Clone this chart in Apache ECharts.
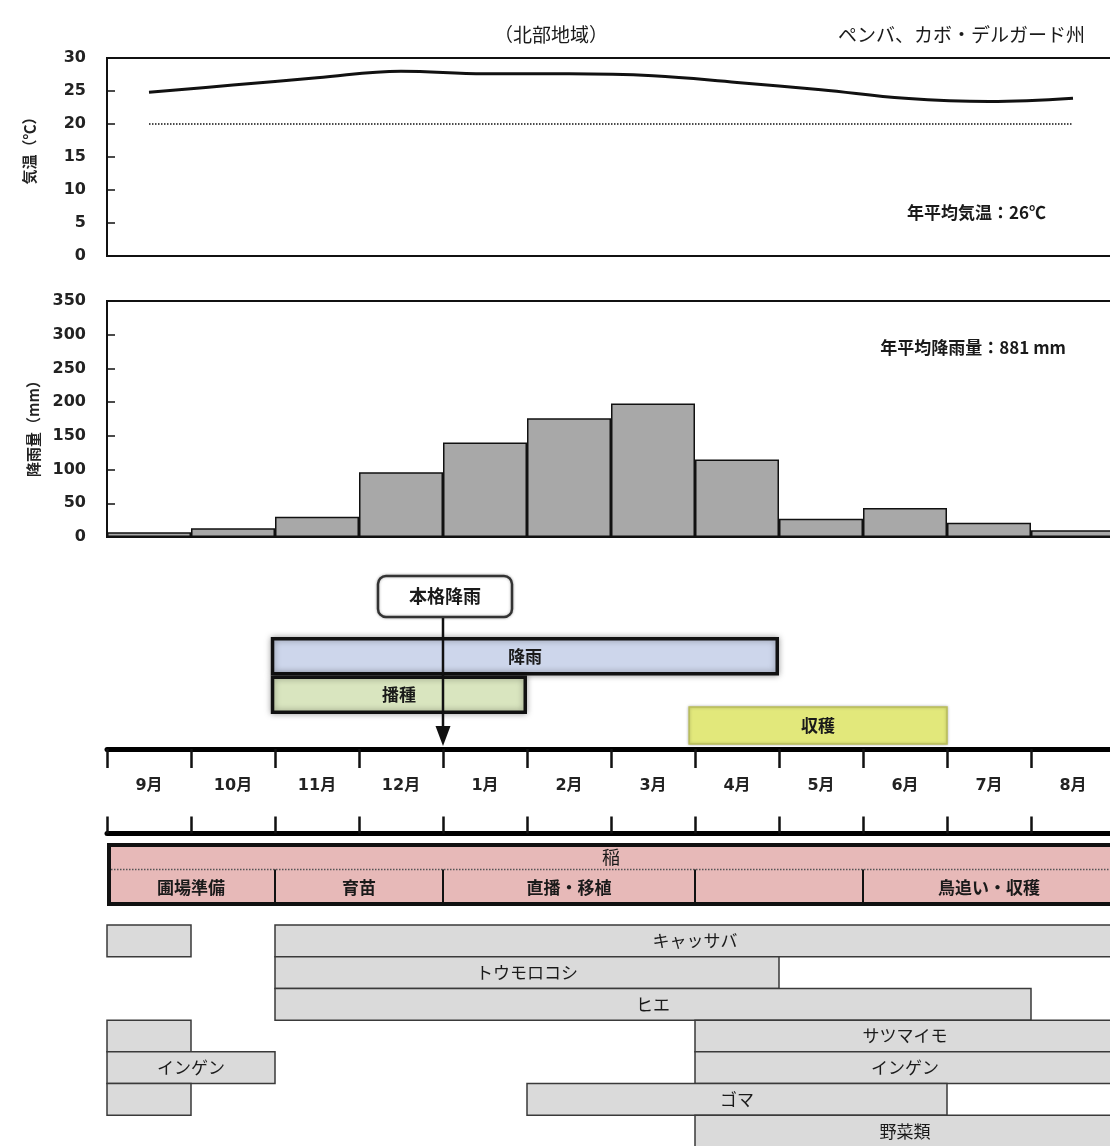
<!DOCTYPE html>
<html><head><meta charset="utf-8">
<script src="https://cdn.jsdelivr.net/npm/echarts@6/dist/echarts.min.js"></script>
<style>html,body{margin:0;padding:0;background:#fff}#c{width:1110px;height:1146px}</style>
</head><body><div id="c"></div>
<script>
// ---------- data ----------
const months = ['9月','10月','11月','12月','1月','2月','3月','4月','5月','6月','7月','8月'];
const temperature = [24.8, 25.9, 27.0, 28.0, 27.6, 27.6, 27.3, 26.3, 25.2, 23.9, 23.4, 23.9];
const tempReference = [20, 20, 20, 20, 20, 20, 20, 20, 20, 20, 20, 20];
const rainfall = [7, 13, 30, 96, 140, 176, 198, 115, 27, 43, 21, 10];

// periods in months counted from the start of September
const seasonNames = ['降雨', '播種'];
const seasonStart = [1.95, 1.95];
const seasonEnd = [8, 5];
const harvestNames = ['収穫'];
const harvestStart = [6.93];
const harvestEnd = [10];
const heavyRainLabel = ['本格降雨'];
const heavyRainMonth = [4];

const riceName = ['稲'];
const riceStart = [0];
const riceEnd = [12];
const riceStageNames = ['圃場準備', '育苗', '直播・移植', '', '鳥追い・収穫'];
const riceStageStart = [0, 2, 4, 7, 9];
const riceStageEnd = [2, 4, 7, 9, 12];

const cropNames = ['', 'キャッサバ', 'トウモロコシ', 'ヒエ', '', 'サツマイモ', 'インゲン', 'インゲン', '', 'ゴマ', '野菜類'];
const cropRow   = [0, 0, 1, 2, 3, 3, 4, 4, 5, 5, 6];
const cropStart = [0, 2, 2, 2, 0, 7, 0, 7, 0, 5, 7];
const cropEnd   = [1, 12, 8, 11, 1, 12, 2, 12, 1, 10, 12];

// ---------- styles ----------
const JP = '"Noto Sans CJK JP", "Noto Sans", sans-serif';
const NUM = 'Verdana, "DejaVu Sans", "Noto Sans CJK JP", sans-serif';
const INK = '#1a1a1a';
const seasonColors = ['#cdd6eb', '#d9e5bf'];
const LEFT = 107, PW = 1008;

const chart = echarts.init(document.getElementById('c'), null, {renderer: 'canvas'});

function seasonItem(params, api) {
  const i = params.dataIndex;
  const row = api.value(2);
  const a = api.coord([api.value(0), row]);
  const b = api.coord([api.value(1), row + 1]);
  const lw = 3.5;
  return {
    type: 'rect',
    shape: {x: a[0] + lw / 2, y: a[1] + lw / 2, width: b[0] - a[0] - lw, height: b[1] - a[1] - lw},
    style: {fill: seasonColors[i], stroke: '#111', lineWidth: lw, shadowBlur: 6, shadowColor: 'rgba(0,0,0,0.35)'},
    textContent: {style: {text: seasonNames[i], fontSize: 17, fontWeight: 'bold', fontFamily: JP, fill: INK}},
    textConfig: {position: 'inside'}
  };
}
function harvestItem(params, api) {
  const i = params.dataIndex;
  const a = api.coord([api.value(0), 0]);
  const b = api.coord([api.value(1), 1]);
  return {
    type: 'rect',
    shape: {x: a[0], y: a[1], width: b[0] - a[0], height: b[1] - a[1]},
    style: {fill: '#e2e87b', stroke: '#b9bd5a', lineWidth: 1.5, shadowBlur: 3, shadowColor: 'rgba(0,0,0,0.25)'},
    textContent: {style: {text: harvestNames[i], fontSize: 17, fontWeight: 'bold', fontFamily: JP, fill: INK}},
    textConfig: {position: 'inside'}
  };
}
function heavyRainItem(params, api) {
  const i = params.dataIndex;
  const top = api.coord([api.value(0), 1]);
  const bot = api.coord([api.value(0), 0]);
  const x = top[0];
  const bw = 134, bh = 43;
  return {
    type: 'group',
    children: [
      {type: 'line', shape: {x1: x, y1: top[1] + bh, x2: x, y2: bot[1] - 18}, style: {stroke: '#111', lineWidth: 2.5}},
      {type: 'polygon', shape: {points: [[x - 7.5, bot[1] - 23], [x + 7.5, bot[1] - 23], [x, bot[1] - 3]]}, style: {fill: '#111'}},
      {type: 'rect', shape: {x: x - bw / 2 + 2, y: top[1] + 1, width: bw, height: bh - 2, r: 8},
        style: {fill: '#fff', stroke: '#333', lineWidth: 2.5, shadowBlur: 3, shadowColor: 'rgba(0,0,0,0.3)'}},
      {type: 'text', style: {text: heavyRainLabel[i], x: x + 2, y: top[1] + bh / 2, align: 'center', verticalAlign: 'middle',
        fontSize: 18, fontWeight: 'bold', fontFamily: JP, fill: INK}}
    ]
  };
}
const RICE_SPLIT = 0.42;
function riceItem(params, api) {
  const i = params.dataIndex;
  const a = api.coord([api.value(0), 0]);
  const b = api.coord([api.value(1), 1]);
  const ys = a[1] + (b[1] - a[1]) * RICE_SPLIT;
  const lw = 4;
  return {
    type: 'group',
    children: [
      {type: 'rect', shape: {x: a[0] + lw / 2, y: a[1] + lw / 2, width: b[0] - a[0] - lw, height: b[1] - a[1] - lw},
        style: {fill: '#e7b9b8', stroke: '#111', lineWidth: lw}},
      {type: 'line', shape: {x1: a[0] + lw, y1: ys, x2: b[0], y2: ys}, style: {stroke: '#555', lineWidth: 1.5, lineDash: [1.5, 1.5]}},
      {type: 'text', style: {text: riceName[i], x: (a[0] + b[0]) / 2, y: (a[1] + ys) / 2 + 1, align: 'center', verticalAlign: 'middle',
        fontSize: 18, fontFamily: JP, fill: INK}}
    ]
  };
}
function stageItem(params, api) {
  const i = params.dataIndex;
  const a = api.coord([api.value(0), 0]);
  const b = api.coord([api.value(1), 1]);
  const ys = a[1] + (b[1] - a[1]) * RICE_SPLIT;
  const ch = [
    {type: 'text', style: {text: riceStageNames[i], x: (a[0] + b[0]) / 2, y: (ys + b[1]) / 2, align: 'center', verticalAlign: 'middle',
      fontSize: 17, fontWeight: 'bold', fontFamily: JP, fill: INK}}
  ];
  if (api.value(0) > 0) {
    ch.push({type: 'line', shape: {x1: a[0], y1: ys, x2: a[0], y2: b[1] - 2}, style: {stroke: '#111', lineWidth: 2}});
  }
  return {type: 'group', children: ch};
}
function cropItem(params, api) {
  const i = params.dataIndex;
  const a = api.coord([api.value(0), api.value(2)]);
  const b = api.coord([api.value(1), api.value(2) + 1]);
  return {
    type: 'rect',
    shape: {x: a[0], y: a[1], width: b[0] - a[0], height: b[1] - a[1]},
    style: {fill: '#dadada', stroke: '#3a3a3a', lineWidth: 1.5},
    textContent: {style: {text: cropNames[i], fontSize: 17, fontFamily: JP, fill: INK}},
    textConfig: {position: 'inside'}
  };
}

const hiddenVal = (g, max, inv) => ({type: 'value', gridIndex: g, min: 0, max: max, inverse: !!inv, show: false});
const gridBase = {left: LEFT, width: PW, outerBoundsMode: 'none', containLabel: false};
const axisLabelNum = {fontSize: 16, fontWeight: 'bold', fontFamily: NUM, color: '#222', margin: 21};

const option = {
  animation: false,
  backgroundColor: '#fff',
  grid: [
    Object.assign({top: 58, height: 198, show: true, borderColor: '#111', borderWidth: 2}, gridBase),
    Object.assign({top: 301, height: 236, show: true, borderColor: '#111', borderWidth: 2}, gridBase),
    Object.assign({top: 637, height: 77}, gridBase),
    Object.assign({top: 707, height: 37}, gridBase),
    Object.assign({top: 749, height: 84.5}, gridBase),
    Object.assign({top: 843, height: 63}, gridBase),
    Object.assign({top: 925, height: 222}, gridBase),
    Object.assign({top: 575, height: 174}, gridBase)
  ],
  xAxis: [
    {type: 'category', gridIndex: 0, data: months, axisLabel: {show: false},
      axisTick: {inside: true, length: 6, lineStyle: {color: '#111', width: 1.5}},
      axisLine: {lineStyle: {color: '#111', width: 2}}},
    {type: 'category', gridIndex: 1, data: months, axisLabel: {show: false}, axisTick: {show: false},
      axisLine: {lineStyle: {color: '#111', width: 2}}},
    hiddenVal(2, 12),
    hiddenVal(3, 12),
    {type: 'category', gridIndex: 4, data: months, position: 'top',
      axisLine: {show: true, onZero: false, lineStyle: {color: '#000', width: 5}},
      axisTick: {show: true, inside: true, length: 19, interval: 0, lineStyle: {color: '#111', width: 2.5}},
      axisLabel: {inside: true, margin: 29, interval: 0, fontSize: 16, fontWeight: 'bold', fontFamily: NUM, color: '#222'}},
    {type: 'category', gridIndex: 4, data: months, position: 'bottom',
      axisLine: {show: true, onZero: false, lineStyle: {color: '#000', width: 5}},
      axisTick: {show: true, inside: true, length: 17, interval: 0, lineStyle: {color: '#111', width: 2.5}},
      axisLabel: {show: false}},
    hiddenVal(5, 12),
    hiddenVal(6, 12),
    hiddenVal(7, 12)
  ],
  yAxis: [
    {type: 'value', gridIndex: 0, min: 0, max: 30, interval: 5, splitLine: {show: false},
      name: '気温（℃）', nameLocation: 'middle', nameRotate: 90, nameGap: 70,
      nameTextStyle: {fontSize: 15, fontWeight: 'bold', fontFamily: JP, color: '#222', padding: [0, 0, 0, 20]},
      axisLine: {show: true, lineStyle: {color: '#111', width: 2}},
      axisTick: {show: true, inside: true, length: 8, lineStyle: {color: '#111', width: 1.5}},
      axisLabel: axisLabelNum},
    {type: 'value', gridIndex: 1, min: 0, max: 350, interval: 50, splitLine: {show: false},
      name: '降雨量（mm）', nameLocation: 'middle', nameRotate: 90, nameGap: 66,
      nameTextStyle: {fontSize: 15, fontWeight: 'bold', fontFamily: JP, color: '#222', padding: [0, 12, 0, 0]},
      axisLine: {show: true, lineStyle: {color: '#111', width: 2}},
      axisTick: {show: true, inside: true, length: 8, lineStyle: {color: '#111', width: 1.5}},
      axisLabel: axisLabelNum},
    hiddenVal(2, 2, true),
    hiddenVal(3, 1, true),
    hiddenVal(4, 1),
    hiddenVal(5, 1, true),
    hiddenVal(6, 7, true),
    hiddenVal(7, 1)
  ],
  series: [
    {type: 'line', xAxisIndex: 0, yAxisIndex: 0, data: temperature, smooth: 0.4, symbol: 'none',
      lineStyle: {color: '#111', width: 3}, z: 3},
    {type: 'line', xAxisIndex: 0, yAxisIndex: 0, data: tempReference, symbol: 'none',
      lineStyle: {color: '#111', width: 1.5, type: [1.5, 1.5]}, z: 2},
    {type: 'bar', xAxisIndex: 1, yAxisIndex: 1, data: rainfall, barWidth: '100%', barCategoryGap: 0,
      itemStyle: {color: '#a8a8a8', borderColor: '#111', borderWidth: 1.5}},
    {type: 'custom', xAxisIndex: 2, yAxisIndex: 2, renderItem: seasonItem,
      data: seasonNames.map((n, i) => [seasonStart[i], seasonEnd[i], i]), z: 3},
    {type: 'custom', xAxisIndex: 3, yAxisIndex: 3, renderItem: harvestItem,
      data: harvestNames.map((n, i) => [harvestStart[i], harvestEnd[i], 0]), z: 3},
    {type: 'custom', xAxisIndex: 6, yAxisIndex: 5, renderItem: riceItem,
      data: riceName.map((n, i) => [riceStart[i], riceEnd[i]]), z: 3},
    {type: 'custom', xAxisIndex: 6, yAxisIndex: 5, renderItem: stageItem,
      data: riceStageNames.map((n, i) => [riceStageStart[i], riceStageEnd[i]]), z: 4},
    {type: 'custom', xAxisIndex: 7, yAxisIndex: 6, renderItem: cropItem,
      data: cropNames.map((n, i) => [cropStart[i], cropEnd[i], cropRow[i]]), z: 3},
    {type: 'custom', xAxisIndex: 8, yAxisIndex: 7, renderItem: heavyRainItem,
      data: heavyRainMonth.map(m => [m, 0]), z: 10}
  ],
  graphic: [
    {type: 'text', x: 551, y: 35, style: {text: '（北部地域）', align: 'center', verticalAlign: 'middle',
      fontSize: 19, fontFamily: JP, fill: INK}},
    {type: 'text', x: 1085, y: 35, style: {text: 'ペンバ、カボ・デルガード州', align: 'right', verticalAlign: 'middle',
      fontSize: 19, fontFamily: JP, fill: INK}},
    {type: 'text', x: 1046, y: 213, style: {text: '年平均気温：26℃', align: 'right', verticalAlign: 'middle',
      fontSize: 17, fontWeight: 'bold', fontFamily: JP, fill: INK}},
    {type: 'text', x: 1066, y: 348, style: {text: '年平均降雨量：881 mm', align: 'right', verticalAlign: 'middle',
      fontSize: 17, fontWeight: 'bold', fontFamily: JP, fill: INK}}
  ]
};
chart.setOption(option);
</script>
</body></html>
